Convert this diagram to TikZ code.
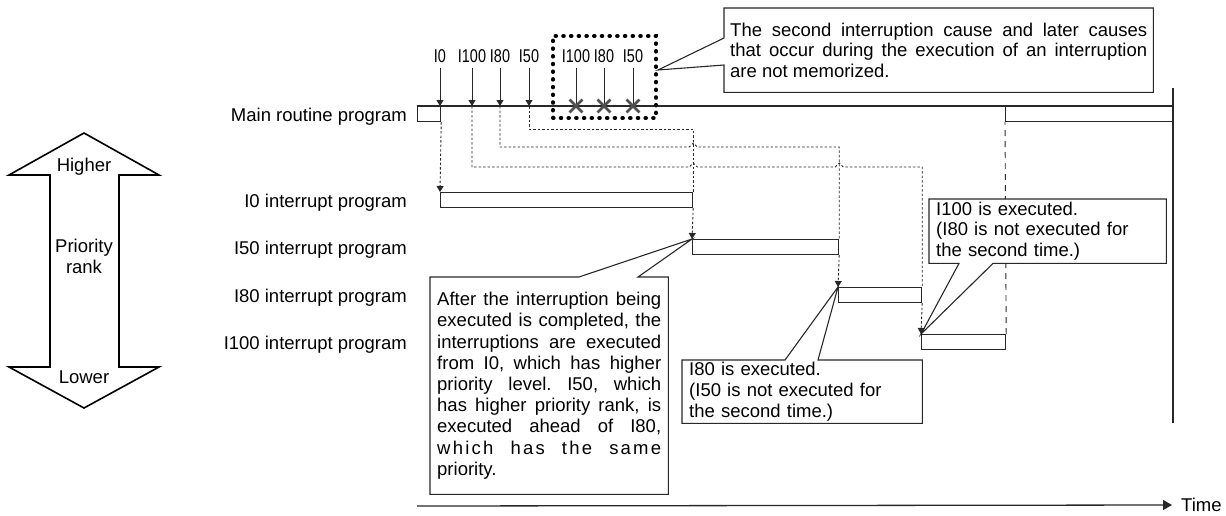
\documentclass[tikz,border=0pt]{standalone}
\usepackage{fontspec}
\setmainfont{Liberation Sans}
\newfontfamily\narrowfont[FakeStretch=0.78]{Liberation Sans}
\usetikzlibrary{positioning, arrows.meta, shapes.misc, calc}
\definecolor{lineg}{RGB}{40,40,40}
\definecolor{crossg}{RGB}{80,80,80}
\newcommand{\dfont}{\fontsize{18.5}{20.8}\selectfont}
\frenchspacing

\begin{document}
\begin{tikzpicture}[x=1pt, y=-1pt,
    every node/.style={font=\dfont},
    rowlabel/.style={anchor=base east, inner sep=0pt},
    reqlabel/.style={anchor=base, inner sep=0pt, font=\narrowfont\dfont},
    task/.style={draw=lineg, line width=1.2pt, minimum height=15pt, inner sep=0pt, anchor=north west},
    req/.style={lineg, line width=0.9pt, -{Triangle[width=7pt,length=6pt]}},
    lost/.style={lineg, line width=0.9pt},
    xmark/.style={draw=crossg, cross out, line width=2.8pt, minimum size=10pt, inner sep=0pt},
    flow/.style={lineg, line width=0.9pt, dash pattern=on 2.5pt off 2pt},
    flowin/.style={flow, -{Triangle[width=7pt,length=6pt]}},
    back/.style={lineg, line width=0.9pt, dash pattern=on 6pt off 5pt},
    dotbox/.style={draw=black, line width=4pt, dash pattern=on 0.6pt off 7.1pt, line cap=round, inner sep=0pt, anchor=north west},
    callout/.style={fill=white, inner ysep=0pt, anchor=north west,
      font={\dfont\tolerance=9999 \hyphenpenalty=10000 \relax}},
    calloutline/.style={draw=lineg, line width=1.1pt}]
  \useasboundingbox (0,0) rectangle (1226,515);

  % priority rank
  \draw[line width=1.6pt, line join=miter] (84,133) -- (9,175) -- (50,175) -- (50,367)
    -- (9,367) -- (84,408) -- (159,367) -- (119,367) -- (119,175) -- (159,175) -- cycle;
  \node (phigh) at (84,167) {Higher};
  \node[align=center] (prank) at (84,256) {Priority\\rank};
  \node (plow) at (84,377) {Lower};

  % programs
  \node[rowlabel] (lmain) at (407,121.5) {Main routine program};
  \node[rowlabel] (l0) at (407,207) {I0 interrupt program};
  \node[rowlabel] (l50) at (407,254) {I50 interrupt program};
  \node[rowlabel] (l80) at (407,302) {I80 interrupt program};
  \node[rowlabel] (l100) at (407,349) {I100 interrupt program};

  \node[task, minimum width=23pt] (bmain) at (417,106) {};
  \node[task, minimum width=252pt] (b0) at (440,192) {};
  \node[task, minimum width=146pt] (b50) at (692,239) {};
  \node[task, minimum width=83pt] (b80) at (838,287) {};
  \node[task, minimum width=84pt] (b100) at (921,334) {};
  \node[task, minimum width=168pt] (bend) at (1005,106) {};

  \coordinate (etop) at (1173,88);
  \coordinate (ebot) at (1173,423);
  \draw[lineg, line width=1.2pt] (etop) -- (ebot);
  \draw[lineg, line width=1.5pt] (bmain.north west) -- (bmain.north west -| etop);

  % interrupt requests
  \node[reqlabel] (r0) at (440,62) {I0};
  \node[reqlabel] (r100) at (472,62) {I100};
  \node[reqlabel] (r80) at (500,62) {I80};
  \node[reqlabel] (r50) at (529,62) {I50};
  \draw[req] ([yshift=-6pt]r0.base) -- (r0 |- bmain.north);
  \draw[req] ([yshift=-6pt]r100.base) -- (r100 |- bmain.north);
  \draw[req] ([yshift=-6pt]r80.base) -- (r80 |- bmain.north);
  \draw[req] ([yshift=-6pt]r50.base) -- (r50 |- bmain.north);

  % requests that are not memorized
  \node[reqlabel] (s100) at (576,62) {I100};
  \node[reqlabel] (s80) at (604,62) {I80};
  \node[reqlabel] (s50) at (633,62) {I50};
  \draw[lost] ([yshift=-6pt]s100.base) -- (s100 |- bmain.north);
  \draw[lost] ([yshift=-6pt]s80.base) -- (s80 |- bmain.north);
  \draw[lost] ([yshift=-6pt]s50.base) -- (s50 |- bmain.north);
  \node[xmark] (x100) at (s100 |- bmain.north) {};
  \node[xmark] (x80) at (s80 |- bmain.north) {};
  \node[xmark] (x50) at (s50 |- bmain.north) {};
  \node[dotbox, minimum width=103pt, minimum height=82pt] (ignbox) at (551,34) {};

  % execution order
  \coordinate (lv50) at (0,129);
  \coordinate (lv80) at (0,147);
  \coordinate (lv100) at (0,167);
  \draw[flowin] (bmain.south east) -- (b0.north west);
  \draw[flow] (r50 |- bmain.north) -- (r50 |- lv50) -| (b0.north east);
  \draw[flowin] (b0.south east) -- (b50.north west);
  \draw[flow] (r80 |- bmain.north) -- (r80 |- lv80)
    -- ([xshift=-4pt]lv80 -| b0.north east) -- ++(4,-4) -- ++(4,4) -| (b50.north east);
  \draw[flowin] (b50.south east) -- (b80.north west);
  \draw[flow] (r100 |- bmain.north) -- (r100 |- lv100)
    -- ([xshift=-4pt]lv100 -| b0.north east) -- ++(4,-4) -- ++(4,4)
    -- ([xshift=-4pt]lv100 -| b50.north east) -- ++(4,-4) -- ++(4,4) -| (b80.north east);
  \draw[flowin] (b80.south east) -- (b100.north west);
  \draw[back] (b100.north east) -- (bend.south west);

  % notes
  \node[callout, text width=417pt, inner xsep=6pt, align=justify, minimum height=84pt] (cnote) at (724,8)
    {The second interruption cause and later causes\linebreak that occur during the execution of an interruption\linebreak are not memorized.};
  \draw[calloutline] (cnote.north west) -- ([yshift=-30pt]cnote.north west) -- ([yshift=7pt]ignbox.east)
    -- ([yshift=-57pt]cnote.north west) -- (cnote.south west) -- (cnote.south east) -- (cnote.north east) -- cycle;

  \node[callout, text width=224pt, inner xsep=7pt, align=justify, minimum height=217pt,
    font={\fontsize{18.5}{21.2}\selectfont\tolerance=9999 \hyphenpenalty=10000 \relax}] (cexec) at (430,277)
    {After the interruption being\linebreak executed is completed, the\linebreak interruptions are executed\linebreak
     from I0, which has higher\linebreak priority level. I50, which\linebreak has higher priority rank, is\linebreak
     executed ahead of I80,\linebreak {\addfontfeature{LetterSpace=12}which has the same}\linebreak priority.};
  \draw[calloutline] (cexec.north west) -- ([xshift=149pt]cexec.north west) -- (b50.north west)
    -- ([xshift=208pt]cexec.north west) -- (cexec.north east) -- (cexec.south east) -- (cexec.south west) -- cycle;

  \node[callout, text width=226pt, inner xsep=7pt, align=left, minimum height=63pt] (c80) at (682,360)
    {I80 is executed.\\(I50 is not executed for\\the second time.)};
  \draw[calloutline] (c80.north west) -- ([xshift=103pt]c80.north west) -- (b80.north west)
    -- ([xshift=136pt]c80.north west) -- (c80.north east) -- (c80.south east) -- (c80.south west) -- cycle;

  \node[callout, text width=223pt, inner xsep=7pt, align=left, minimum height=64pt] (c100) at (929,199)
    {I100 is executed.\\(I80 is not executed for\\the second time.)};
  \draw[calloutline] (c100.south west) -- ([xshift=30pt]c100.south west) -- (b100.north west)
    -- ([xshift=64pt]c100.south west) -- (c100.south east) -- (c100.north east) -- (c100.north west) -- cycle;

  % time axis
  \coordinate (tstart) at (417,506);
  \node[anchor=west, inner sep=0pt] (ttime) at (1181,505) {Time};
  \draw[lineg, line width=1.3pt, -{Triangle[width=10pt,length=9pt]}] (tstart) -- ([xshift=-9pt]ttime.west);
\end{tikzpicture}
\end{document}
